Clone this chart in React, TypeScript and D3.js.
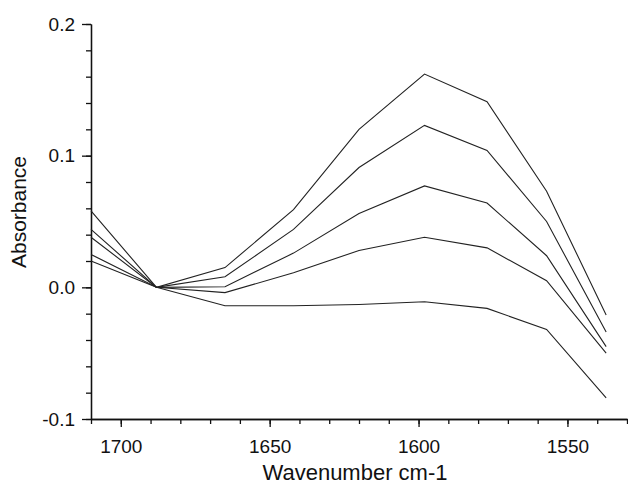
import React, { useRef, useEffect } from 'react'
import * as d3 from 'd3'

const wavenumbers = [1710, 1688, 1665, 1642, 1620, 1598, 1577, 1557, 1537]
const series1 = [0.058, 0, 0.015, 0.059, 0.12, 0.162, 0.141, 0.073, -0.021]
const series2 = [0.044, 0, 0.008, 0.044, 0.091, 0.123, 0.104, 0.05, -0.034]
const series3 = [0.038, 0, 0.0005, 0.026, 0.056, 0.077, 0.064, 0.024, -0.045]
const series4 = [0.025, 0, -0.004, 0.011, 0.028, 0.038, 0.03, 0.005, -0.05]
const series5 = [0.02, 0, -0.014, -0.014, -0.013, -0.011, -0.016, -0.032, -0.084]

const xMajorTicks = [1700, 1650, 1600, 1550]
const yMajorTicks = [-0.1, 0.0, 0.1, 0.2]

const W = 628
const H = 486
const FONT = '"Liberation Sans", Arial, Helvetica, sans-serif'

export default function App() {
  const ref = useRef<SVGSVGElement>(null)

  useEffect(() => {
    const svg = d3.select(ref.current)
    svg.selectAll('*').remove()

    const x = d3.scaleLinear().domain([1710, 1530]).range([91, 627])
    const y = d3.scaleLinear().domain([-0.1, 0.2]).range([419, 24])

    const xMinor = d3.range(1710, 1529, -10)
    const yMinor = d3.range(-10, 21, 2).map(v => v / 100)
    // plain hyphen for negatives, like the original
    const yFormat = (d: number) => d.toFixed(1)

    // minor ticks
    svg
      .append('g')
      .attr('transform', `translate(0,${y(-0.1)})`)
      .call(d3.axisBottom(x).tickValues(xMinor).tickSize(5).tickSizeOuter(0).tickFormat(() => ''))
    svg
      .append('g')
      .attr('transform', `translate(${x(1710)},0)`)
      .call(d3.axisLeft(y).tickValues(yMinor).tickSize(5).tickSizeOuter(0).tickFormat(() => ''))

    // major ticks + labels
    const xAxis = svg
      .append('g')
      .attr('transform', `translate(0,${y(-0.1)})`)
      .call(d3.axisBottom(x).tickValues(xMajorTicks).tickSize(8).tickSizeOuter(0).tickPadding(13).tickFormat(d3.format('d')))
    const yAxis = svg
      .append('g')
      .attr('transform', `translate(${x(1710)},0)`)
      .call(d3.axisLeft(y).tickValues(yMajorTicks).tickSize(9).tickSizeOuter(0).tickPadding(7).tickFormat(yFormat))

    svg.selectAll('.domain, .tick line').attr('stroke', '#111').attr('stroke-width', 1.3)
    ;[xAxis, yAxis].forEach(a =>
      a.selectAll('text').attr('font-family', FONT).attr('font-size', 19).attr('fill', '#111')
    )

    const line = d3
      .line<number>()
      .x((d, i) => x(wavenumbers[i]))
      .y(d => y(d))

    svg
      .append('g')
      .selectAll('path')
      .data([series1, series2, series3, series4, series5])
      .enter()
      .append('path')
      .attr('d', line)
      .attr('fill', 'none')
      .attr('stroke', '#222')
      .attr('stroke-width', 1.1)

    svg
      .append('text')
      .attr('x', 355)
      .attr('y', 480)
      .attr('text-anchor', 'middle')
      .attr('font-family', FONT)
      .attr('font-size', 22)
      .attr('fill', '#111')
      .text('Wavenumber cm-1')

    svg
      .append('text')
      .attr('transform', 'translate(26,212) rotate(-90)')
      .attr('text-anchor', 'middle')
      .attr('font-family', FONT)
      .attr('font-size', 21)
      .attr('fill', '#111')
      .text('Absorbance')
  }, [])

  return (
    <svg
      ref={ref}
      width={W}
      height={H}
      style={{ position: 'absolute', left: 0, top: 0, background: '#fff' }}
    />
  )
}
